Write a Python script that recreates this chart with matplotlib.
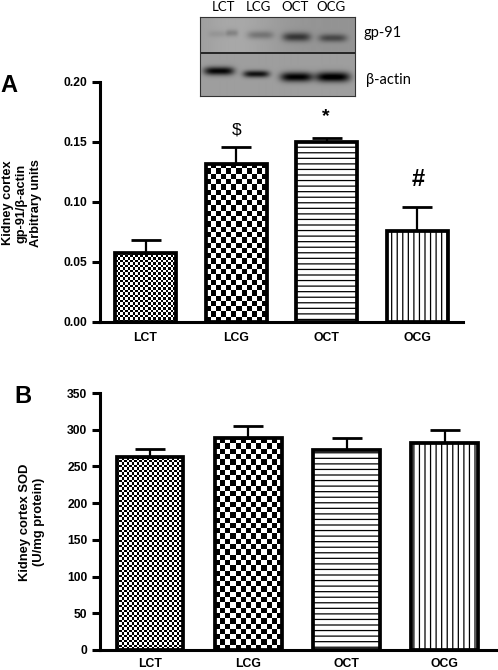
import numpy as np
import matplotlib
matplotlib.use('Agg')
import matplotlib.pyplot as plt

W, H = 498, 670
plt.rcParams['font.family'] = ['Liberation Sans', 'DejaVu Sans']
plt.rcParams['hatch.linewidth'] = 0.9

groups = ['LCT', 'LCG', 'OCT', 'OCG']

# panel A: gp-91/beta-actin
a_values = [0.0575, 0.1316, 0.1497, 0.0756]
a_errors = [0.0105, 0.0144, 0.0033, 0.0199]
a_ticks = [0.00, 0.05, 0.10, 0.15, 0.20]

# panel B: SOD
b_values = [262.5, 288.5, 272.5, 281.5]
b_errors = [11.5, 16.5, 16.5, 18.5]
b_ticks = [0, 50, 100, 150, 200, 250, 300, 350]

# blot bands: x centre, y centre, half width, half height, darkness
gp91_bands = [(218, 34, 10, 3.5, 0.06), (232, 33, 6, 3.5, 0.14), (260, 35, 13, 4.0, 0.18),
              (296, 37, 14, 4.5, 0.38), (332, 38, 14, 4.0, 0.30)]
actin_bands = [(219, 71, 15, 4.2, 0.60), (256, 74, 13, 3.5, 0.55),
               (296, 77, 16, 4.8, 0.62), (332, 77, 17, 5.0, 0.65)]


def axes_px(x0, x1, y_top, y_bottom):
    return fig.add_axes([x0 / W, 1 - y_bottom / H, (x1 - x0) / W, (y_bottom - y_top) / H])


def txt(x, y, s, **kw):
    kw.setdefault('ha', 'center')
    kw.setdefault('va', 'center')
    return fig.text(x / W, 1 - y / H, s, **kw)


def checker(ax, bar, cell_px, px_per_x, px_per_y):
    x0, w, h = bar.get_x(), bar.get_width(), bar.get_height()
    nx = int(round(w * px_per_x / cell_px))
    ny = int(round(h * px_per_y / cell_px))
    yy, xx = np.indices((ny, nx))
    im = ax.imshow((xx + yy) % 2, cmap='gray', vmin=0, vmax=1, aspect='auto', origin='lower',
                   extent=(x0, x0 + w, 0, h), interpolation='nearest', zorder=1)
    im.set_clip_path(bar)


def panel(box, xlim, width, values, errors, ticks, ylim, fmt, fine_cell, coarse_cell, xpad):
    ax = axes_px(*box)
    xs = np.arange(len(groups))
    bars = ax.bar(xs, values, width, facecolor='none', edgecolor='k', linewidth=2.7, zorder=3)
    bars[2].set_facecolor('white')
    bars[2].set_hatch('---')
    bars[3].set_facecolor('white')
    bars[3].set_hatch('|||')
    ax.errorbar(xs, values, yerr=[np.zeros(4), errors], fmt='none', ecolor='k', elinewidth=1.6,
                capsize=11, capthick=2.0, zorder=2)
    ax.set_xlim(*xlim)
    ax.set_ylim(*ylim)
    px_x = (box[1] - box[0]) / (xlim[1] - xlim[0])
    px_y = (box[3] - box[2]) / (ylim[1] - ylim[0])
    checker(ax, bars[0], fine_cell, px_x, px_y)
    checker(ax, bars[1], coarse_cell, px_x, px_y)
    ax.set_xlim(*xlim)
    ax.set_ylim(*ylim)
    for s in ['top', 'right']:
        ax.spines[s].set_visible(False)
    for s in ['left', 'bottom']:
        ax.spines[s].set_linewidth(2.2)
    ax.set_xticks(xs, groups, fontweight='bold', fontsize=8.8)
    ax.tick_params(axis='x', length=0, pad=xpad)
    ax.set_yticks(ticks, [fmt % t for t in ticks], fontweight='bold', fontsize=8.7)
    ax.tick_params(axis='y', length=6, width=2.2, pad=3)
    ax.patch.set_alpha(0)
    return ax


fig = plt.figure(figsize=(W / 100, H / 100), dpi=100)

panel((100, 463, 81.7, 322), (-0.503, 3.508), 0.674, a_values, a_errors, a_ticks, (0, 0.2), '%.2f', 2.5, 5.3, 7)
panel((100, 496, 393, 650), (-0.509, 3.52), 0.68, b_values, b_errors, b_ticks, (0, 350), '%d', 2.5, 5.3, 5.5)

# western blot
bx0, bx1, by0, by1 = 200, 355, 17, 96
px, py = np.meshgrid(np.arange(bx0, bx1) + 0.5, np.arange(by0, by1) + 0.5)
blot = np.where(py < 52, 0.58, 0.62)
blot = blot + 0.08 * np.exp(-((px - 235) / 45) ** 2) * (py < 52)
for bands in [gp91_bands, actin_bands]:
    for cx, cy, hw, hh, dark in bands:
        blot = blot - dark * np.exp(-((px - cx) / hw) ** 4 - ((py - cy) / hh) ** 2)
ax_blot = axes_px(bx0, bx1, by0, by1)
ax_blot.imshow(np.clip(blot, 0, 1), cmap='gray', vmin=0, vmax=1, aspect='auto', interpolation='bilinear')
ax_blot.axhline(35, color='#111111', lw=1.2)
ax_blot.set_xticks([])
ax_blot.set_yticks([])
for s in ax_blot.spines.values():
    s.set_linewidth(0.8)
    s.set_color('#333333')

blot_font = ['Lato', 'DejaVu Sans']
for x, g in zip([223, 258, 295, 331], groups):
    txt(x, 7, g, fontsize=9.5, family=blot_font)
txt(363, 33, 'gp-91', ha='left', fontsize=10.5, family=blot_font)
txt(366, 80, 'β-actin', ha='left', fontsize=10.5, family=blot_font)

# panel letters, axis titles
txt(9, 86, 'A', fontsize=17, fontweight='bold')
txt(23, 397, 'B', fontsize=17, fontweight='bold')
txt(22, 203, 'Kidney cortex\ngp-91/β-actin\nArbitrary units', rotation=90, fontsize=9.2,
    fontweight='bold', linespacing=1.2)
txt(32, 522, 'Kidney cortex SOD\n(U/mg protein)', rotation=90, fontsize=9.4,
    fontweight='bold', linespacing=1.25)

# significance marks
txt(237, 130, '$', fontsize=12.5, parse_math=False)
txt(326, 117, '*', fontsize=14, fontweight='bold')
txt(418, 180, '#', fontsize=17, fontweight='bold')

fig.savefig('out.png', dpi=100)
